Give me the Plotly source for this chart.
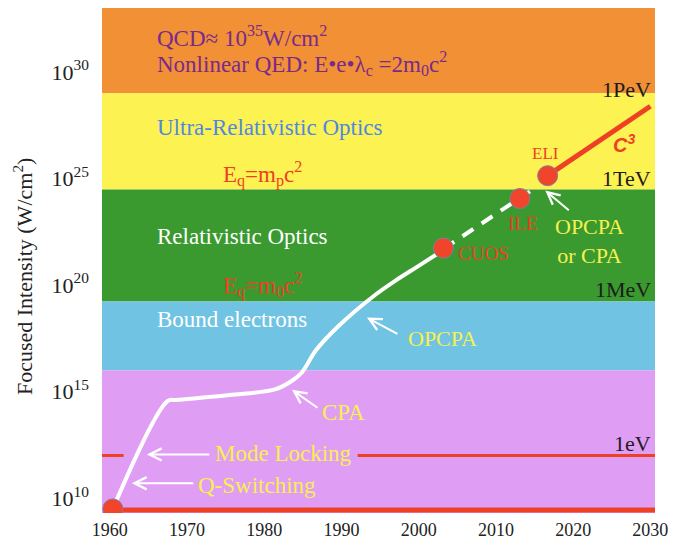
import math
import plotly.graph_objects as go

# ---------------- data ----------------
x_ticks = [1960, 1970, 1980, 1990, 2000, 2010, 2020, 2030]
y_tick_vals = [1e10, 1e15, 1e20, 1e25, 1e30]
y_tick_text = ["10<sup>10</sup>", "10<sup>15</sup>", "10<sup>20</sup>", "10<sup>25</sup>", "10<sup>30</sup>"]

# regimes (upper / lower intensity bounds, W/cm^2)
band_names = ["QCD / Nonlinear QED", "Ultra-Relativistic Optics", "Relativistic Optics",
              "Bound electrons", "Ionization"]
band_top = [1e33, 1e29, 3.0e24, 1.66e19, 1.0e16]
band_bottom = [1e29, 3.0e24, 1.66e19, 1.0e16, 1.0e9]
band_colors = ["#f19035", "#fcf252", "#3a9a2f", "#71c3e3", "#e09df4"]

# historical intensity curve (solid)
curve_years = [1960.4, 1967.5, 1968.6, 1975.5, 1981.5, 1983.6, 1984.9,
               1986.7, 1989.7, 1994.4, 1997.0, 2000.0, 2003.2]
curve_intensity = [3.1e9, 3.6e14, 4.0e14, 6.8e14, 1.3e15, 3.2e15, 8.1e15,
                   8.7e16, 1.26e18, 3.5e19, 1.6e20, 7.9e20, 4.4e21]

# projected (dashed) part
dash_years = [2003.2, 2013.1, 2014.4]
dash_intensity = [4.9e21, 1.15e24, 2.5e24]

# facilities
dot_names = ["", "CUOS", "ILE", "ELI"]
dot_years = [1960.4, 2003.2, 2013.1, 2016.7]
dot_intensity = [3.1e9, 5.4e21, 1.15e24, 1.35e25]

# C^3 projection
c3_years = [2016.7, 2030.0]
c3_intensity = [1.35e25, 2.45e28]

# horizontal reference lines
ev_line_level = 1e12
ev_line_years_a = [1959.0, 1961.8]
ev_line_years_b = [1992.1, 2030.6]
base_line_level = 2.75e9
base_line_years = [1960.4, 2030.6]

# ---------------- figure ----------------
SERIF = "Liberation Serif, Times New Roman, serif"
RED = "#ee4024"
YEL = "#f7f050"

fig = go.Figure()

shapes = []
for top, bot, col in zip(band_top, band_bottom, band_colors):
    shapes.append(dict(type="rect", xref="paper", x0=0, x1=1, yref="y",
                       y0=bot, y1=top, fillcolor=col, line=dict(width=0), layer="below"))

fig.add_trace(go.Scatter(x=ev_line_years_a, y=[ev_line_level] * 2, mode="lines",
                         line=dict(color=RED, width=3), hoverinfo="skip"))
fig.add_trace(go.Scatter(x=ev_line_years_b, y=[ev_line_level] * 2, mode="lines",
                         line=dict(color=RED, width=3), hoverinfo="skip"))
fig.add_trace(go.Scatter(x=base_line_years, y=[base_line_level] * 2, mode="lines",
                         line=dict(color=RED, width=5), hoverinfo="skip"))

fig.add_trace(go.Scatter(x=curve_years, y=curve_intensity, mode="lines",
                         line=dict(color="white", width=4, shape="spline", smoothing=1.0),
                         hoverinfo="skip"))
fig.add_trace(go.Scatter(x=dash_years, y=dash_intensity, mode="lines",
                         line=dict(color="white", width=4, dash="13px,10px"),
                         hoverinfo="skip"))
fig.add_trace(go.Scatter(x=c3_years, y=c3_intensity, mode="lines",
                         line=dict(color=RED, width=5), hoverinfo="skip"))
fig.add_trace(go.Scatter(x=dot_years, y=dot_intensity, mode="markers",
                         marker=dict(size=20, color="#f0452a",
                                     line=dict(color="#8a7a9c", width=1)),
                         text=dot_names, hoverinfo="text"))

ann = []

def txt(x, y, s, size, color, xanchor="center", family=SERIF, **kw):
    ann.append(dict(x=x, y=y, xref="x", yref="y", text=s, showarrow=False,
                    xanchor=xanchor, yanchor="middle",
                    font=dict(family=family, size=size, color=color), **kw))

def arrow(x, y, ax, ay):
    ann.append(dict(x=x, y=y, xref="x", yref="y", text="", showarrow=True,
                    ax=ax, ay=ay, arrowcolor="white", arrowwidth=2,
                    arrowhead=5, arrowsize=1.2))

PURPLE = "#7a2a8c"
txt(1965.8, 31.65, "QCD≈ 10<sup>35</sup>W/cm<sup>2</sup>", 23, PURPLE, "left")
txt(1965.8, 30.39, "Nonlinear QED: E•e•λ<sub>c</sub> =2m<sub>0</sub>c<sup>2</sup>", 23, PURPLE, "left")
txt(1965.8, 27.41, "Ultra-Relativistic Optics", 23, "#4f88e0", "left")
txt(1974.45, 25.23, "E<sub>q</sub>=m<sub>p</sub>c<sup>2</sup>", 23, RED, "left")
txt(1965.8, 22.29, "Relativistic Optics", 23, "white", "left")
txt(1974.45, 20.01, "E<sub>q</sub>=m<sub>0</sub>c<sup>2</sup>", 23, RED, "left")
txt(1965.8, 18.38, "Bound electrons", 23, "white", "left")

DARK = "#1c1c1c"
txt(2030.3, 29.18, "1PeV", 22, DARK, "right")
txt(2030.3, 25.0, "1TeV", 22, DARK, "right")
txt(2030.3, 19.78, "1MeV", 22, DARK, "right")
txt(2030.3, 12.58, "1eV", 22, DARK, "right")

txt(2026.6, 26.62, "<b><i>C<sup>3</sup></i></b>", 20, RED, family="Liberation Sans, Arial, sans-serif")
txt(2016.4, 26.16, "ELI", 17, RED)
txt(2013.5, 22.9, "ILE", 19, RED)
txt(2004.85, 21.5, "CUOS", 19, RED, "left")

txt(2022.1, 22.06, "OPCPA<br>or CPA", 22, YEL)
txt(2003.04, 17.5, "OPCPA", 22, YEL)
txt(1990.3, 14.0, "CPA", 23, YEL)
txt(1982.44, 12.1, "Mode Locking", 23, YEL)
txt(1979.09, 10.61, "Q-Switching", 23, YEL)

arrow(1962.86, math.log10(5.0e10), 63, 0)
arrow(1964.8, math.log10(1.12e12), 64, 0)
arrow(1983.6, math.log10(1.2e15), 27, 19)
arrow(1993.3, math.log10(2.95e18), 32, 17)
arrow(2016.4, math.log10(2.7e24), 25, 21)

# y-axis title
ann.append(dict(x=-0.144, y=0.468, xref="paper", yref="paper",
                text="Focused Intensity (W/cm<sup>2</sup>)", textangle=-90,
                showarrow=False, xanchor="center", yanchor="middle",
                font=dict(family=SERIF, size=22, color="#222222")))

fig.update_layout(
    width=676, height=548,
    margin=dict(l=102, r=18, t=8, b=31),
    paper_bgcolor="white", plot_bgcolor="white",
    showlegend=False,
    shapes=shapes, annotations=ann,
    xaxis=dict(range=[1959.0, 2030.6], tickvals=x_ticks, showgrid=False,
               zeroline=False, showline=False, ticks="", ticklabelstandoff=4,
               tickfont=dict(family=SERIF, size=18, color="#222222")),
    yaxis=dict(type="log", range=[9.3, 33.0], tickvals=y_tick_vals, ticktext=y_tick_text,
               showgrid=False, zeroline=False, showline=False, ticks="",
               ticklabelstandoff=12,
               tickfont=dict(family=SERIF, size=22, color="#222222")),
)

fig.write_html("out.html",
               config={"displayModeBar": False},
               post_script="document.body.style.margin='0px';document.body.style.overflow='hidden';")
